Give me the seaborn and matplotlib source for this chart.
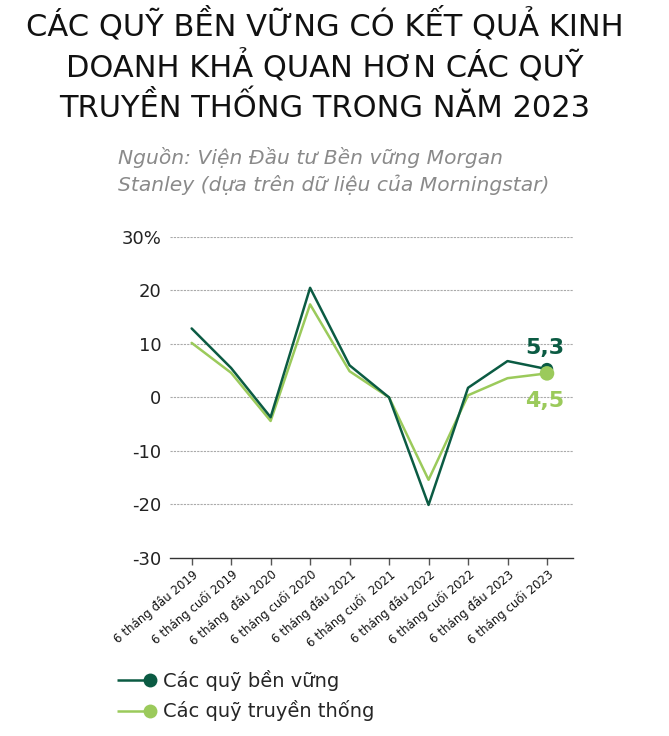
import numpy as np
import pandas as pd
import matplotlib
matplotlib.use("Agg")
import matplotlib.pyplot as plt
import seaborn as sns
from matplotlib.lines import Line2D
from matplotlib.legend_handler import HandlerLine2D

periods = ["6 tháng đầu 2019", "6 tháng cuối 2019", "6 tháng  đầu 2020",
           "6 tháng cuối 2020", "6 tháng đầu 2021", "6 tháng cuối  2021",
           "6 tháng đầu 2022", "6 tháng cuối 2022", "6 tháng đầu 2023",
           "6 tháng cuối 2023"]
sustainable = [12.9, 5.5, -3.7, 20.5, 6.0, 0.0, -20.1, 1.8, 6.8, 5.3]
traditional = [10.2, 4.6, -4.4, 17.4, 4.9, 0.0, -15.4, 0.4, 3.6, 4.5]
series_names = ["Các quỹ bền vững", "Các quỹ truyền thống"]
y_ticks = [-30, -20, -10, 0, 10, 20, 30]
y_labels = ["-30", "-20", "-10", "0", "10", "20", "30%"]

title = "CÁC QUỸ BỀN VỮNG CÓ KẾT QUẢ KINH\nDOANH KHẢ QUAN HƠN CÁC QUỸ\nTRUYỀN THỐNG TRONG NĂM 2023"
subtitle = "Nguồn: Viện Đầu tư Bền vững Morgan\nStanley (dựa trên dữ liệu của Morningstar)"

DARK = "#0b5b43"
LIGHT = "#9bca5b"

sns.set_theme(style="white")
plt.rcParams["font.family"] = ["DejaVu Sans"]

df = pd.DataFrame({
    "x": list(range(len(periods))) * 2,
    "value": sustainable + traditional,
    "series": [series_names[0]] * len(periods) + [series_names[1]] * len(periods),
})

fig = plt.figure(figsize=(6.69, 7.36), dpi=100)
ax = fig.add_axes([0.254, 0.242, 0.602, 0.436])

sns.lineplot(data=df, x="x", y="value", hue="series",
             palette={series_names[0]: DARK, series_names[1]: LIGHT},
             hue_order=[series_names[1], series_names[0]],
             linewidth=1.8, ax=ax, legend=False)

last = len(periods) - 1
ax.scatter([last], [traditional[-1]], s=110, color=LIGHT, zorder=5, edgecolor="none")
ax.scatter([last], [sustainable[-1]], s=80, color=DARK, zorder=4, edgecolor="none")
ax.text(last - 0.05, sustainable[-1] + 2.8, f"{sustainable[-1]}".replace(".", ","),
        color=DARK, fontsize=16, fontweight="bold", ha="center", va="baseline")
ax.text(last - 0.05, traditional[-1] - 3.3, f"{traditional[-1]}".replace(".", ","),
        color=LIGHT, fontsize=16, fontweight="bold", ha="center", va="top")

ax.set_xlim(-0.55, 9.65)
ax.set_ylim(-30, 30)
ax.set_yticks(y_ticks)
ax.set_yticklabels(y_labels, fontsize=13, color="#222222")
ax.set_xticks(range(len(periods)))
ax.set_xticklabels(periods, rotation=40, ha="right", rotation_mode="anchor",
                   fontsize=8.5, color="#111111")
ax.tick_params(axis="y", length=0, pad=6)
ax.tick_params(axis="x", length=5, width=1, color="#555555", direction="out", pad=2, bottom=True)
for y in y_ticks[1:]:
    ax.axhline(y, color="#aaaaaa", linewidth=0.8, linestyle=(0, (2, 1)), zorder=0)
for s in ["left", "right", "top"]:
    ax.spines[s].set_visible(False)
ax.spines["bottom"].set_color("#333333")
ax.spines["bottom"].set_linewidth(1)
ax.set_xlabel("")
ax.set_ylabel("")

fig.text(0.485, 0.99, title, ha="center", va="top", fontsize=22, color="#111111",
         linespacing=1.3)
fig.text(0.176, 0.80, subtitle, ha="left", va="top", fontsize=14.6, color="#8a8a8a",
         style="italic", linespacing=1.4)


class EndMarkerHandler(HandlerLine2D):
    def create_artists(self, legend, orig_handle, xdescent, ydescent, width,
                       height, fontsize, trans):
        y = (height - ydescent) / 2
        x0, x1 = -xdescent, -xdescent + width
        line = Line2D([x0, x1], [y, y], color=orig_handle.get_color(),
                      linewidth=orig_handle.get_linewidth(), solid_capstyle="butt")
        mk = Line2D([x1], [y], color=orig_handle.get_color(), marker="o",
                    markersize=orig_handle.get_markersize(), linestyle="none",
                    markeredgewidth=0)
        line.set_transform(trans)
        mk.set_transform(trans)
        return [line, mk]


handles = [Line2D([], [], color=DARK, linewidth=1.8, marker="o", markersize=10),
           Line2D([], [], color=LIGHT, linewidth=1.8, marker="o", markersize=10)]
leg = fig.legend(handles, series_names, loc="upper left",
                 bbox_to_anchor=(0.175, 0.090), bbox_transform=fig.transFigure,
                 frameon=False, fontsize=14, handlelength=1.7, handletextpad=0.68,
                 labelspacing=0.5, borderaxespad=0, borderpad=0,
                 handler_map={Line2D: EndMarkerHandler()})

fig.savefig("out.png", dpi=100)
